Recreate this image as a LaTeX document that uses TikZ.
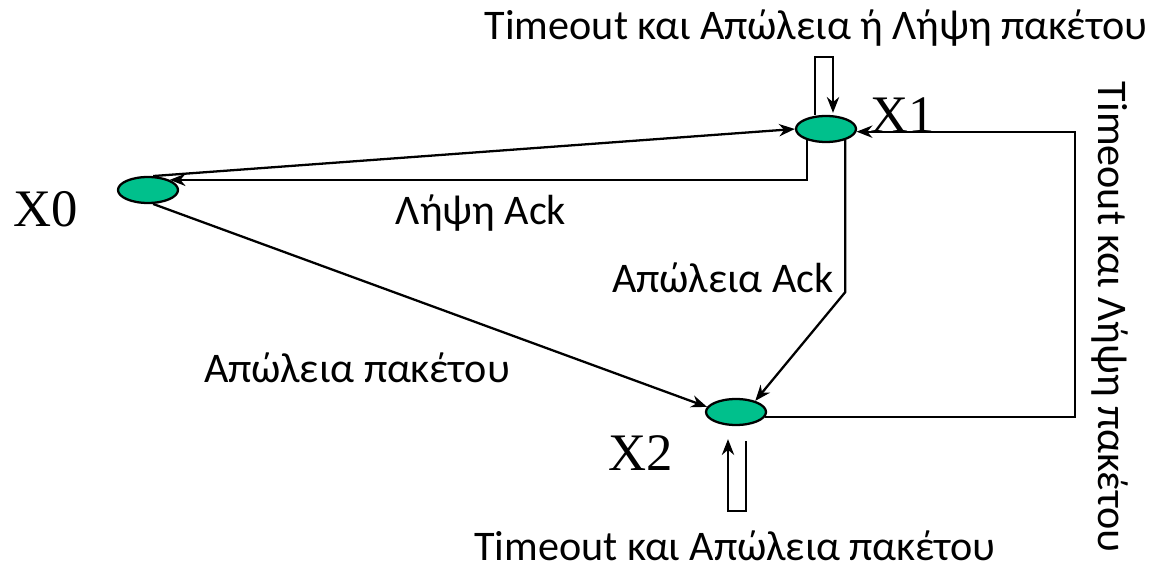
\documentclass[tikz,border=0pt]{standalone}
\usepackage{fontspec}
\setmainfont{Carlito}
\newfontfamily\timesx{Liberation Serif}
\usepackage{tikz}
\usetikzlibrary{shapes.geometric,arrows.meta}
\usetikzlibrary{calc}

\begin{document}
\begin{tikzpicture}[x=0.02cm, y=-0.02cm, >={Stealth[length=9pt,width=7pt]},
                state/.style={ellipse, draw, line width=1.3pt, fill=stategreen, minimum width=1.2cm, minimum height=0.52cm, inner sep=0pt},
                lbl/.style={font=\fontsize{24}{29}\selectfont, inner sep=0pt},
                xlbl/.style={font=\timesx\fontsize{30}{36}\selectfont, inner sep=0pt, anchor=base},
                edge/.style={->, line width=1.3pt}]
                \definecolor{stategreen}{RGB}{0,192,140}
                \useasboundingbox (0,0) rectangle (1158,570);
                \node[state] (x0) at (148,190) {};
                \node[state] (x1) at (826,129) {};
                \node[state] (x2) at (736,412) {};
                \node[xlbl] (x0l) at (46,227) {X0};
                \node[xlbl] (x1l) at (903,133) {X1};
                \node[xlbl] (x2l) at (641,470) {X2};
                \coordinate (rc) at (1075,280);
                \draw[edge] (x0.70) -- (x1.west);
                \draw[edge] (x1.210) |- (x0.25);
                \draw[edge] (x0.-70) -- (x2.170);
                \draw[edge] (x1.-30) -- ++(0,152) -- (x2.30);
                \draw[edge] (x2.-10) -| (rc) |- (x1.-5);
                \draw[edge] ($(x1.north)+(-11,0)$) -- ++(0,-58) -- ++(18,0) -- ++(0,56);
                \draw[edge] ($(x2.south)+(10,15)$) -- ++(0,70) -- ++(-18,0) -- ++(0,-72);
                \node[lbl, anchor=base] (l1) at (816,40) {Timeout και Απώλεια ή Λήψη πακέτου};
                \node[lbl] (l2) at (481,213) {Λήψη Ack};
                \node[lbl] (l3) at (723,278) {Απώλεια Ack};
                \node[lbl] (l4) at (357,368) {Απώλεια πακέτου};
                \node[lbl, anchor=base] (l5) at (735,560) {Timeout και Απώλεια πακέτου};
                \node[lbl, rotate=-90] (l6) at (1110,317) {Timeout και Λήψη πακέτου};
            \end{tikzpicture}
\end{document}
